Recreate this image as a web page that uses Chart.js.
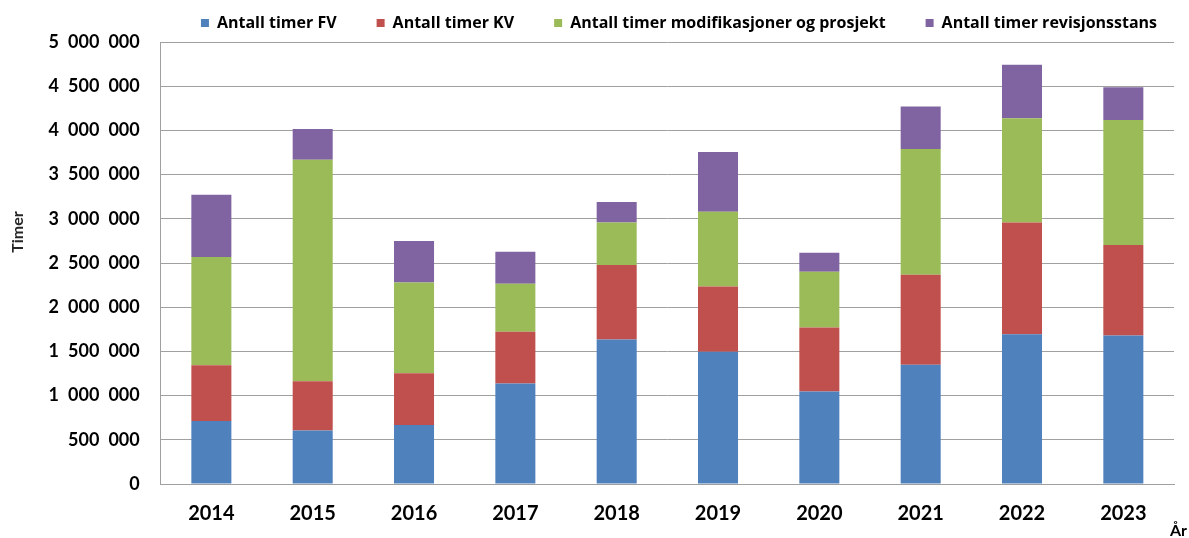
<!DOCTYPE html>
<html>
<head>
<meta charset="utf-8">
<script src="https://cdn.jsdelivr.net/npm/chart.js@4/dist/chart.umd.min.js"></script>
<style>
  body { margin: 0; background: #fff; }
  #wrap { width: 1189px; height: 538px; }
</style>
</head>
<body>
<div id="wrap"><canvas id="grafico" width="1189" height="538"></canvas></div>
<script>
const aar = ['2014', '2015', '2016', '2017', '2018', '2019', '2020', '2021', '2022', '2023'];

const timerFV = [713000, 604000, 668000, 1136000, 1634000, 1495000, 1045000, 1348000, 1695000, 1680000];
const timerKV = [631000, 559000, 586000, 585000, 843000, 739000, 725000, 1019000, 1264000, 1023000];
const timerMod = [1223000, 2506000, 1026000, 544000, 482000, 846000, 631000, 1423000, 1178000, 1416000];
const timerRev = [706000, 348000, 469000, 362000, 231000, 676000, 215000, 480000, 605000, 369000];

const serieNavn = [
    'Antall timer FV',
    'Antall timer KV',
    'Antall timer modifikasjoner og prosjekt',
    'Antall timer revisjonsstans'
];
const farger = ['#4F81BD', '#C0504D', '#9BBB59', '#8064A2'];

const gridFarge = '#a0a0a0';
const fontNavn = 'Lato, "Open Sans", sans-serif';
const legendFont = '"Open Sans", Lato, sans-serif';

function formatTall(v) {
    // mellomrom som tusenskille, som i originalen
    return String(v).replace(/\B(?=(\d{3})+(?!\d))/g, '\u2002');
}

const ekstraTekst = {
    id: 'ekstraTekst',
    afterLayout(chart) {
        const lg = chart.legend;
        if (!lg) return;
        lg.left = 152;
        lg.right = 1206;
        lg.top = -25;
    },
    afterDraw(chart) {
        const ctx = chart.ctx;
        ctx.save();
        ctx.fillStyle = '#262626';
        ctx.font = 'bold 16px ' + fontNavn;
        ctx.textAlign = 'center';
        ctx.textBaseline = 'middle';
        ctx.translate(18, 232);
        ctx.rotate(-Math.PI / 2);
        ctx.fillText('Timer', 0, 0);
        ctx.restore();

        ctx.save();
        ctx.fillStyle = '#000';
        ctx.font = 'bold 16px ' + fontNavn;
        ctx.textAlign = 'right';
        ctx.textBaseline = 'alphabetic';
        ctx.fillText('År', 1187, 536);
        ctx.restore();
    }
};

const datasets = [timerFV, timerKV, timerMod, timerRev].map((d, i) => ({
    label: serieNavn[i],
    data: d,
    backgroundColor: farger[i],
    borderWidth: 0,
    barPercentage: 0.395,
    categoryPercentage: 1
}));

const ctx = document.getElementById('grafico');

const grafico = new Chart(ctx, {
    type: 'bar',
    data: {
        labels: aar,
        datasets: datasets
    },
    options: {
        responsive: false,
        animation: false,
        layout: {
            padding: { left: 0, right: 15, top: 0, bottom: 0 }
        },
        plugins: {
            tooltip: { enabled: false },
            legend: {
                position: 'top',
                maxHeight: 42,
                labels: {
                    boxWidth: 8,
                    boxHeight: 8,
                    padding: 40,
                    color: '#000',
                    font: { family: legendFont, size: 16, weight: 'bold' }
                }
            }
        },
        scales: {
            x: {
                stacked: true,
                afterFit(scale) { scale.height = 54; },
                grid: { display: false, drawTicks: false },
                border: { display: true, color: gridFarge },
                ticks: {
                    color: '#000',
                    padding: 18,
                    maxRotation: 0,
                    font: { family: fontNavn, size: 20, weight: 'bold' }
                }
            },
            y: {
                stacked: true,
                min: 0,
                max: 5000000,
                afterFit(scale) { scale.width = 160.7; },
                grid: { color: gridFarge, lineWidth: 1, drawTicks: false },
                border: { display: true, color: gridFarge },
                ticks: {
                    stepSize: 500000,
                    color: '#000',
                    padding: 21,
                    font: { family: fontNavn, size: 18, weight: 'bold' },
                    callback: v => formatTall(v)
                }
            }
        }
    },
    plugins: [ekstraTekst]
});
</script>
</body>
</html>
